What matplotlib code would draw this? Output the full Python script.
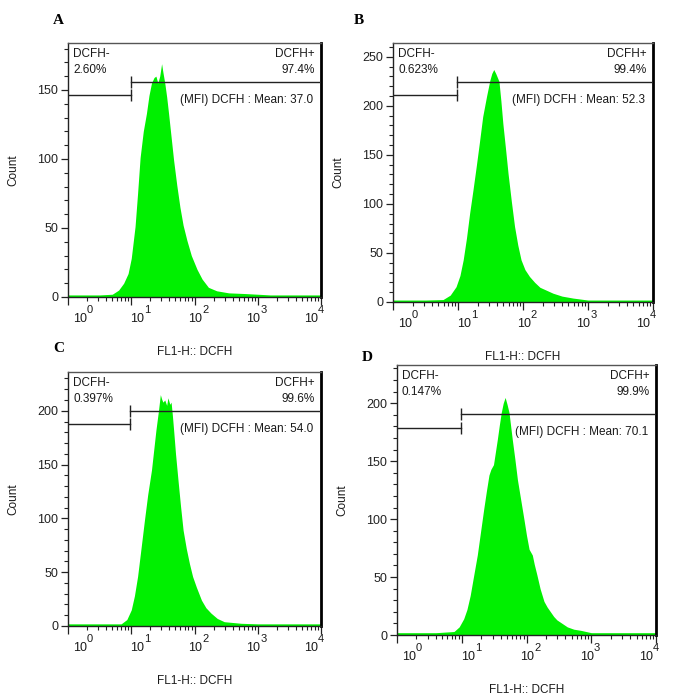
import numpy as np
import matplotlib
matplotlib.use('Agg')
import matplotlib.pyplot as plt
from matplotlib.ticker import MultipleLocator, FixedLocator, NullFormatter

plt.rcParams['font.family'] = ['Liberation Sans', 'DejaVu Sans']

# ---------------- data ----------------
panel_letters = ['A', 'B', 'C', 'D']

# histogram outlines: log10(FL1-H) positions and counts
a_log10 = [0.0, 0.5, 0.70, 0.80, 0.88, 0.95, 1.00, 1.06, 1.10, 1.14, 1.19, 1.24, 1.28,
           1.32, 1.36, 1.39, 1.42, 1.45, 1.48, 1.50, 1.53, 1.56, 1.59, 1.63, 1.67,
           1.72, 1.77, 1.82, 1.88, 1.95, 2.04, 2.12, 2.22, 2.35, 2.54, 2.8, 3.2, 4.0]
a_count = [1.5, 1.5, 2, 5, 10, 17, 28, 51, 75, 101, 120, 133, 146,
           155, 159, 160, 155, 160, 169, 163, 155, 145, 133, 116, 99,
           81, 65, 52, 41, 30, 20, 13, 7, 4.5, 3, 2.5, 1.5, 1.5]

b_log10 = [0.0, 0.5, 0.77, 0.88, 0.97, 1.03, 1.08, 1.13, 1.18, 1.23, 1.28, 1.33, 1.38,
           1.44, 1.49, 1.52, 1.55, 1.58, 1.63, 1.66, 1.69, 1.73, 1.77, 1.82, 1.87,
           1.92, 1.97, 2.03, 2.10, 2.18, 2.26, 2.36, 2.46, 2.6, 2.77, 3.0, 4.0]
b_count = [2, 2, 2.5, 7, 15.6, 27, 43, 65, 91, 114, 138, 163, 189,
           210, 226, 233, 237, 233, 225, 205, 182, 157, 131, 103, 77,
           58, 43, 33, 26, 20, 15, 12, 9, 6, 4, 2, 2]

c_log10 = [0.0, 0.6, 0.84, 0.93, 1.0, 1.05, 1.10, 1.15, 1.21, 1.26, 1.32, 1.39, 1.43,
           1.46, 1.48, 1.50, 1.53, 1.56, 1.58, 1.61, 1.63, 1.65, 1.67, 1.70, 1.74,
           1.78, 1.82, 1.87, 1.92, 1.97, 2.03, 2.11, 2.18, 2.26, 2.36, 2.47, 2.74, 3.0, 4.0]
c_count = [2, 2, 2, 6, 15, 28, 46, 70, 99, 122, 145, 182, 200,
           215, 211, 208, 210, 205, 212, 206, 208, 196, 182, 160, 135,
           111, 89, 72, 58, 46, 36, 24, 17, 12, 7, 4, 2.5, 2, 2]

d_log10 = [0.0, 0.6, 0.88, 0.96, 1.03, 1.08, 1.13, 1.18, 1.24, 1.29, 1.34, 1.38, 1.42,
           1.45, 1.49, 1.52, 1.55, 1.58, 1.61, 1.64, 1.67, 1.70, 1.73, 1.78, 1.82,
           1.86, 1.91, 1.96, 2.00, 2.04, 2.09, 2.12, 2.16, 2.21, 2.27, 2.32, 2.37,
           2.42, 2.47, 2.55, 2.63, 2.73, 2.84, 3.0, 4.0]
d_count = [2, 2, 3, 7, 14, 22, 34, 50, 69, 89, 109, 124, 138,
           143, 147, 158, 169, 181, 192, 200, 205, 199, 192, 169, 152,
           134, 117, 100, 86, 74, 69, 61, 52, 40, 29, 24, 20,
           16, 13, 10, 7, 5, 4, 2, 2]

hist_log10 = [a_log10, b_log10, c_log10, d_log10]
hist_count = [a_count, b_count, c_count, d_count]

neg_pct = ['2.60%', '0.623%', '0.397%', '0.147%']
pos_pct = ['97.4%', '99.4%', '99.6%', '99.9%']
mfi_mean = ['37.0', '52.3', '54.0', '70.1']

gate_split = [9.9, 9.7, 9.6, 9.6]           # FL1-H value of the gate boundary
gate_neg_y = [146, 210.5, 187.6, 178.7]     # count level of DCFH- gate bar
gate_pos_y = [156, 224.5, 200, 190.5]       # count level of DCFH+ gate bar
y_max = [184, 264, 236, 233]
y_top_major = [150, 250, 200, 200]

x_decades = [0, 1, 2, 3, 4]
x_label = 'FL1-H:: DCFH'
y_label = 'Count'

# ---------------- layout ----------------
W, H = 681, 699
fig = plt.figure(figsize=(W / 100, H / 100), dpi=100)

# axes boxes in pixels: left, top, right, bottom
boxes = [(68, 43, 321, 297), (393, 43, 653, 302), (68, 372, 321, 626), (397, 365, 656, 635)]
letter_pos = [(58, 20), (359, 20), (59, 348), (367, 358)]

GREEN = '#00f000'
TXT = '#1a1a1a'
PX = 0.72  # points per pixel at 100 dpi
FS = 8.5

for i in range(4):
    l, t, r, b = boxes[i]
    ax = fig.add_axes([l / W, 1 - b / H, (r - l) / W, (b - t) / H])
    x = 10 ** np.array(hist_log10[i])
    ax.fill_between(x, 0, hist_count[i], color=GREEN, lw=0, zorder=1)
    ax.set_xscale('log')
    ax.set_xlim(1, 1e4)
    ax.set_ylim(0, y_max[i])

    # spines
    for s in ['left', 'bottom', 'top']:
        ax.spines[s].set_color('#222222')
        ax.spines[s].set_linewidth(1.0)
    ax.spines['top'].set_color('#555555')
    ax.spines['right'].set_color('black')
    ax.spines['right'].set_linewidth(2.0)

    # y ticks
    ax.yaxis.set_major_locator(FixedLocator(list(range(0, y_top_major[i] + 1, 50))))
    ax.yaxis.set_minor_locator(MultipleLocator(10))
    ax.tick_params(axis='y', which='major', direction='out', length=5, width=0.9,
                   labelsize=9, pad=2, colors='#222222')
    ax.tick_params(axis='y', which='minor', direction='out', length=3, width=0.8, colors='#222222')

    # x ticks
    ax.xaxis.set_major_locator(FixedLocator([10.0 ** d for d in x_decades]))
    minors = [m * 10.0 ** d for d in x_decades[:-1] for m in range(2, 10)]
    ax.xaxis.set_minor_locator(FixedLocator(minors))
    ax.xaxis.set_major_formatter(NullFormatter())
    ax.xaxis.set_minor_formatter(NullFormatter())
    ax.tick_params(axis='x', which='major', direction='out', length=6, width=0.9, colors='#222222')
    ax.tick_params(axis='x', which='minor', direction='out', length=3, width=0.8, colors='#222222')

    # FlowJo style decade labels
    for k, d in enumerate(x_decades):
        f = 0.046 + k * 0.2288
        ax.annotate('10', xy=(f, 0), xycoords='axes fraction', xytext=(0, -16 * PX),
                    textcoords='offset points', ha='center', va='top', fontsize=9, color=TXT)
        ax.annotate(str(d), xy=(f, 0), xycoords='axes fraction', xytext=(7 * PX, -8 * PX),
                    textcoords='offset points', ha='left', va='top', fontsize=8, color=TXT)

    # gates
    ax.plot([1, gate_split[i]], [gate_neg_y[i], gate_neg_y[i]], color='#222222', lw=1, zorder=3)
    ax.plot([gate_split[i]], [gate_neg_y[i]], marker='|', ms=8, mew=1, color='#222222', zorder=3)
    ax.plot([gate_split[i], 1e4], [gate_pos_y[i], gate_pos_y[i]], color='#222222', lw=1, zorder=3)
    ax.plot([gate_split[i]], [gate_pos_y[i]], marker='|', ms=8, mew=1, color='#222222', zorder=3)

    # gate texts
    kw = dict(xycoords='axes fraction', textcoords='offset points', fontsize=FS,
              color=TXT, va='baseline')
    ax.annotate('DCFH-', xy=(0, 1), xytext=(5 * PX, -14 * PX), ha='left', **kw)
    ax.annotate(neg_pct[i], xy=(0, 1), xytext=(5 * PX, -30 * PX), ha='left', **kw)
    ax.annotate('DCFH+', xy=(1, 1), xytext=(-6 * PX, -14 * PX), ha='right', **kw)
    ax.annotate(pos_pct[i], xy=(1, 1), xytext=(-6 * PX, -30 * PX), ha='right', **kw)
    ax.annotate('(MFI) DCFH : Mean: ' + mfi_mean[i], xy=(1, gate_pos_y[i]),
                xycoords=('axes fraction', 'data'), xytext=(-8 * PX, -21 * PX),
                textcoords='offset points', ha='right', va='baseline', fontsize=FS, color=TXT)

    # axis titles
    ax.annotate(x_label, xy=(0.5, 0), xycoords='axes fraction', xytext=(0, -55 * PX),
                textcoords='offset points', ha='center', va='center', fontsize=FS, color=TXT)
    ax.annotate(y_label, xy=(0, 0.5), xycoords='axes fraction', xytext=(-55 * PX, 0),
                textcoords='offset points', ha='center', va='center', rotation=90,
                fontsize=FS, color=TXT)

    lx, ly = letter_pos[i]
    fig.text(lx / W, 1 - ly / H, panel_letters[i], ha='center', va='center',
             fontsize=11, fontweight='bold', family='Liberation Serif', color='black')

fig.savefig('out.png', dpi=100)
